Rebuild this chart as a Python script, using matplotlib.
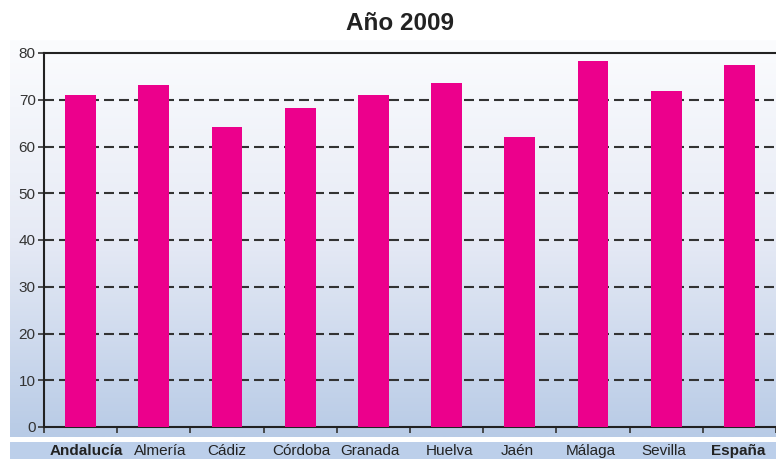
import numpy as np
import matplotlib
matplotlib.use("Agg")
import matplotlib.pyplot as plt
import matplotlib.transforms as mtransforms
from matplotlib.colors import LinearSegmentedColormap

plt.rcParams["font.family"] = ["Liberation Sans", "DejaVu Sans"]

categories = ["Andalucía", "Almería", "Cádiz", "Córdoba", "Granada",
              "Huelva", "Jaén", "Málaga", "Sevilla", "España"]
values = [71.0, 73.2, 64.2, 68.2, 71.0, 73.6, 62.0, 78.3, 71.9, 77.4]
bold_labels = ["Andalucía", "España"]
yticks = [0, 10, 20, 30, 40, 50, 60, 70, 80]

W, H = 776, 459
fig = plt.figure(figsize=(W / 100, H / 100), dpi=100)


def fx(px):
    return px / W


def fy(py):
    return 1 - py / H


# gradient background panel
bg = fig.add_axes([fx(10), fy(437), fx(776) - fx(10), fy(40) - fy(437)])
bg.set_axis_off()
cmap = LinearSegmentedColormap.from_list("bgrad", ["#fbfcfe", "#e6eaf5", "#b8cbe6"])
grad = np.linspace(0, 1, 256).reshape(-1, 1)
bg.imshow(grad, aspect="auto", cmap=cmap, extent=[0, 1, 0, 1], origin="upper")
bg.set_zorder(0)

# label strip
strip = fig.add_axes([fx(10), 0, fx(776) - fx(10), fy(442)])
strip.set_axis_off()
strip.add_patch(plt.Rectangle((0, 0), 1, 1, color="#bccfea", transform=strip.transAxes))
strip.set_zorder(0)

ax = fig.add_axes([fx(44), fy(427), fx(776) - fx(44), fy(53) - fy(427)])
ax.set_zorder(2)
ax.patch.set_alpha(0)

x = np.arange(len(categories))
ax.bar(x, values, width=0.42, color="#ec008c", zorder=3)

ax.set_ylim(0, 80)
ax.set_xlim(-0.5, len(categories) - 0.5 - 3 / 73.5)
ax.set_yticks(yticks)
ax.set_yticklabels([str(t) for t in yticks], fontsize=11, color="#333333")
ax.tick_params(axis="y", length=4, width=1.2, color="#333333", pad=2)

ax.set_xticks(np.arange(len(categories) + 1) - 0.5)
ax.set_xticklabels([])
ax.tick_params(axis="x", which="major", length=4, width=1.2, color="#333333")
ax.set_xticks(x, minor=True)
ax.set_xticklabels(categories, minor=True, fontsize=11, color="#222222")
ax.tick_params(axis="x", which="minor", length=0, pad=12)

# the original labels are not quite centred under the bars
nudge_px = [6, 6, 0, 1, -3, 3, -3, -2, -2, -1]
for lbl, dx in zip(ax.get_xticklabels(minor=True), nudge_px):
    if lbl.get_text() in bold_labels:
        lbl.set_fontweight("bold")
    off = mtransforms.ScaledTranslation(dx / 100, 0, fig.dpi_scale_trans)
    lbl.set_transform(lbl.get_transform() + off)

for t in yticks[1:-1]:
    ax.axhline(t, color="#333333", lw=1.5, dashes=(4.8, 2.4), zorder=2)

for side in ["left", "bottom", "top"]:
    ax.spines[side].set_color("#222222")
    ax.spines[side].set_linewidth(1.5)
ax.spines["right"].set_visible(False)

fig.text(fx(400), fy(23), "Año 2009", ha="center", va="center",
         fontsize=17.5, fontweight="bold", color="#222222")

fig.savefig("out.png", dpi=100)
